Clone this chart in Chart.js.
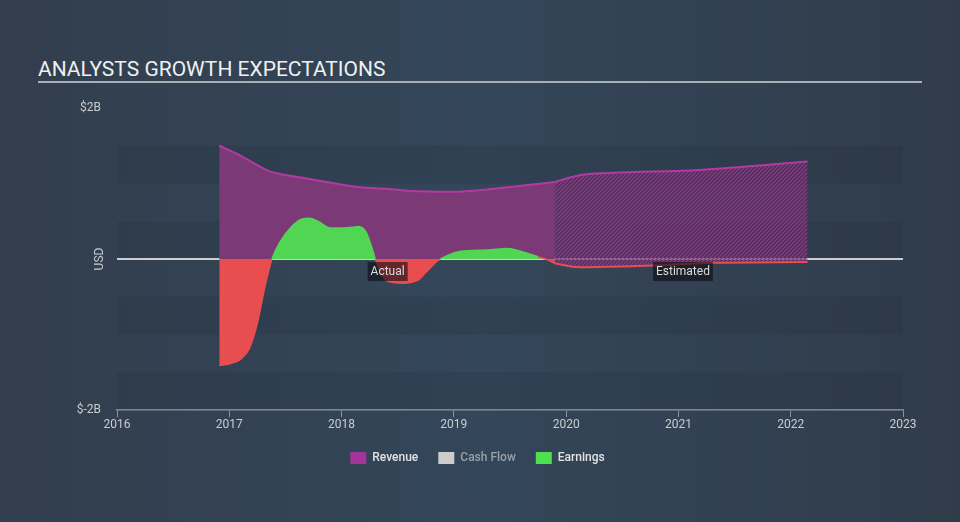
<!DOCTYPE html>
<html>
<head>
<meta charset="utf-8">
<script src="https://cdn.jsdelivr.net/npm/chart.js@4.4.0/dist/chart.umd.min.js"></script>
<style>
    html, body {
        margin: 0;
        padding: 0;
        width: 960px;
        height: 522px;
        overflow: hidden;
        background: linear-gradient(90deg, #323e4d 0%, #34465a 50%, #303c4a 100%);
    }
    #title {
        position: absolute;
        left: 38px;
        top: 57px;
        width: 884px;
        height: 24px;
        font: 21px Roboto, sans-serif;
        line-height: 24px;
        color: #f0f0f0;
        border-bottom: 2px solid #a9afb7;
    }
    #wrap {
        position: absolute;
        left: 0;
        top: 0;
        width: 960px;
        height: 522px;
    }
</style>
</head>
<body>
<div id="title">ANALYSTS GROWTH EXPECTATIONS</div>
<div id="wrap"><canvas id="chart"></canvas></div>
<script>
// Valores em bilhões de USD
const revenueActualYears = [2016.91, 2017.1, 2017.36, 2017.6, 2017.87, 2018.16, 2018.4, 2018.61, 2019.0, 2019.3, 2019.6, 2019.9];
const revenueActualValues = [1.50, 1.37, 1.16, 1.09, 1.02, 0.95, 0.93, 0.90, 0.89, 0.92, 0.97, 1.02];

const revenueEstYears = [2019.9, 2020.12, 2020.39, 2021.19, 2022.15];
const revenueEstValues = [1.02, 1.11, 1.14, 1.18, 1.29];

const earningsActualYears = [2016.91, 2017.0, 2017.1, 2017.18, 2017.25, 2017.32, 2017.38, 2017.45, 2017.55, 2017.65, 2017.72, 2017.8, 2017.9, 2018.0, 2018.1, 2018.15, 2018.22, 2018.28, 2018.3, 2018.38, 2018.42, 2018.55, 2018.68, 2018.75, 2018.85, 2018.88, 2018.95, 2019.05, 2019.3, 2019.48, 2019.6, 2019.75, 2019.85, 2019.9];
const earningsActualValues = [-1.41, -1.39, -1.33, -1.18, -0.85, -0.35, 0.0, 0.22, 0.42, 0.53, 0.54, 0.49, 0.41, 0.41, 0.42, 0.43, 0.35, 0.10, 0.0, -0.26, -0.30, -0.32, -0.28, -0.18, -0.03, 0.0, 0.05, 0.10, 0.12, 0.14, 0.10, 0.03, -0.02, -0.06];

const earningsEstYears = [2019.9, 2020.12, 2020.5, 2020.9, 2021.3, 2022.15];
const earningsEstValues = [-0.06, -0.11, -0.10, -0.08, -0.05, -0.04];

const yTickValues = [-2, 2];
const yTickLabels = ['$-2B', '$2B'];

const legendNames = ['Revenue', 'Cash Flow', 'Earnings'];
const legendColors = ['#a3359a', '#cccccc', '#4ee04e'];
const legendTextColors = ['#e2e2e2', '#9aa0a8', '#e2e2e2'];

const periodLabels = ['Actual', 'Estimated'];
const periodLabelYears = [2018.41, 2021.04];

const COLORS = {
    revenueLine: '#b43aa3',
    revenueFill: '#7b3a76',
    green: '#51d653',
    red: '#e84e50',
    text: '#c8ccd2',
    axis: '#8793a2',
    band: 'rgba(20, 28, 38, 0.10)'
};

function toPoints(xs, ys) {
    return xs.map((x, i) => ({ x: x, y: ys[i] }));
}

// Padrão hachurado para a parte estimada
function makeHatch() {
    const c = document.createElement('canvas');
    c.width = 4;
    c.height = 4;
    const g = c.getContext('2d');
    g.fillStyle = 'rgba(90, 40, 90, 0.55)';
    g.fillRect(0, 0, 4, 4);
    g.strokeStyle = '#8f3a89';
    g.lineWidth = 1.3;
    g.beginPath();
    g.moveTo(0, 4); g.lineTo(4, 0);
    g.moveTo(-1, 1); g.lineTo(1, -1);
    g.moveTo(3, 5); g.lineTo(5, 3);
    g.stroke();
    return g.createPattern(c, 'repeat');
}
const hatch = makeHatch();

// Faixas alternadas de fundo + linha do zero
const backgroundPlugin = {
    id: 'bgBands',
    afterLayout(chart) {
        // centraliza a legenda como no original
        if (chart.legend) {
            chart.legend.left += 26;
            chart.legend.right += 26;
        }
    },
    beforeDatasetsDraw(chart) {
        const { ctx, chartArea, scales } = chart;
        const y = scales.y;
        const bands = [[1.5, 1.0], [0.5, 0], [-0.5, -1.0], [-1.5, -2.0]];
        ctx.save();
        ctx.fillStyle = COLORS.band;
        bands.forEach(([a, b]) => {
            const top = y.getPixelForValue(a);
            const bottom = y.getPixelForValue(b);
            ctx.fillRect(chartArea.left, top, chartArea.right - chartArea.left, bottom - top);
        });
        const zero = y.getPixelForValue(0);
        ctx.strokeStyle = '#ffffff';
        ctx.lineWidth = 1.5;
        ctx.beginPath();
        ctx.moveTo(chartArea.left, zero);
        ctx.lineTo(chartArea.right, zero);
        ctx.stroke();
        ctx.restore();
    },
    afterDatasetsDraw(chart) {
        const { ctx, scales } = chart;
        const zero = scales.y.getPixelForValue(0);
        ctx.save();
        ctx.font = '12px Roboto, sans-serif';
        ctx.textAlign = 'center';
        ctx.textBaseline = 'middle';
        periodLabels.forEach((txt, i) => {
            const cx = scales.x.getPixelForValue(periodLabelYears[i]);
            const w = ctx.measureText(txt).width + 6;
            ctx.fillStyle = 'rgba(10, 12, 16, 0.6)';
            ctx.fillRect(cx - w / 2, zero + 3, w, 19);
            ctx.fillStyle = '#dcdcdc';
            ctx.fillText(txt, cx, zero + 13);
        });
        // título do eixo Y
        ctx.translate(100, zero);
        ctx.rotate(-Math.PI / 2);
        ctx.fillStyle = COLORS.text;
        ctx.fillText('USD', 0, 0);
        ctx.restore();
    }
};

const ctx = document.getElementById('chart');

new Chart(ctx, {
    type: 'line',
    data: {
        datasets: [
            {
                label: 'Earnings',
                data: toPoints(earningsActualYears, earningsActualValues),
                borderWidth: 1.5,
                segment: {
                    borderColor: c => (c.p0.parsed.y < 0 || c.p1.parsed.y < 0) ? COLORS.red : COLORS.green
                },
                fill: { target: 'origin', above: COLORS.green, below: COLORS.red },
                cubicInterpolationMode: 'monotone',
                pointRadius: 0,
                order: 0
            },
            {
                label: 'Earnings (est.)',
                data: toPoints(earningsEstYears, earningsEstValues),
                borderColor: COLORS.red,
                borderWidth: 2,
                fill: { target: 'origin', above: hatch, below: hatch },
                cubicInterpolationMode: 'monotone',
                pointRadius: 0,
                order: 0
            },
            {
                label: 'Revenue',
                data: toPoints(revenueActualYears, revenueActualValues),
                borderColor: COLORS.revenueLine,
                backgroundColor: COLORS.revenueFill,
                borderWidth: 2,
                fill: 'origin',
                cubicInterpolationMode: 'monotone',
                pointRadius: 0,
                order: 1
            },
            {
                label: 'Revenue (est.)',
                data: toPoints(revenueEstYears, revenueEstValues),
                borderColor: COLORS.revenueLine,
                backgroundColor: hatch,
                borderWidth: 2,
                fill: 'origin',
                cubicInterpolationMode: 'monotone',
                pointRadius: 0,
                order: 1
            }
        ]
    },
    options: {
        responsive: true,
        maintainAspectRatio: false,
        animation: false,
        layout: {
            padding: { top: 108, right: 57, bottom: 48, left: 0 }
        },
        scales: {
            x: {
                type: 'linear',
                min: 2016,
                max: 2023,
                ticks: {
                    stepSize: 1,
                    color: COLORS.text,
                    font: { size: 12, family: 'Roboto' },
                    padding: 1,
                    maxRotation: 0,
                    callback: v => String(v)
                },
                grid: { display: true, drawOnChartArea: false, drawTicks: true, tickLength: 7, color: COLORS.axis },
                border: { display: true, color: COLORS.axis, width: 1.5 },
                afterFit: s => { s.height = 22; }
            },
            y: {
                min: -2,
                max: 2,
                afterBuildTicks: s => { s.ticks = yTickValues.map(v => ({ value: v })); },
                ticks: {
                    color: COLORS.text,
                    font: { size: 12, family: 'Roboto' },
                    padding: 16,
                    callback: v => yTickLabels[yTickValues.indexOf(v)]
                },
                grid: { display: false, drawTicks: false },
                border: { display: false },
                afterFit: s => { s.width = 117; }
            }
        },
        plugins: {
            tooltip: { enabled: false },
            legend: {
                position: 'bottom',
                onClick: () => {},
                labels: {
                    boxWidth: 16,
                    boxHeight: 12,
                    padding: 20,
                    color: '#e2e2e2',
                    font: { size: 12, family: 'Roboto', weight: 500 },
                    generateLabels: () => legendNames.map((n, i) => ({
                        text: n,
                        fillStyle: legendColors[i],
                        strokeStyle: legendColors[i],
                        lineWidth: 0,
                        hidden: false,
                        fontColor: legendTextColors[i],
                        datasetIndex: i
                    }))
                }
            }
        }
    },
    plugins: [backgroundPlugin]
});
</script>
</body>
</html>
